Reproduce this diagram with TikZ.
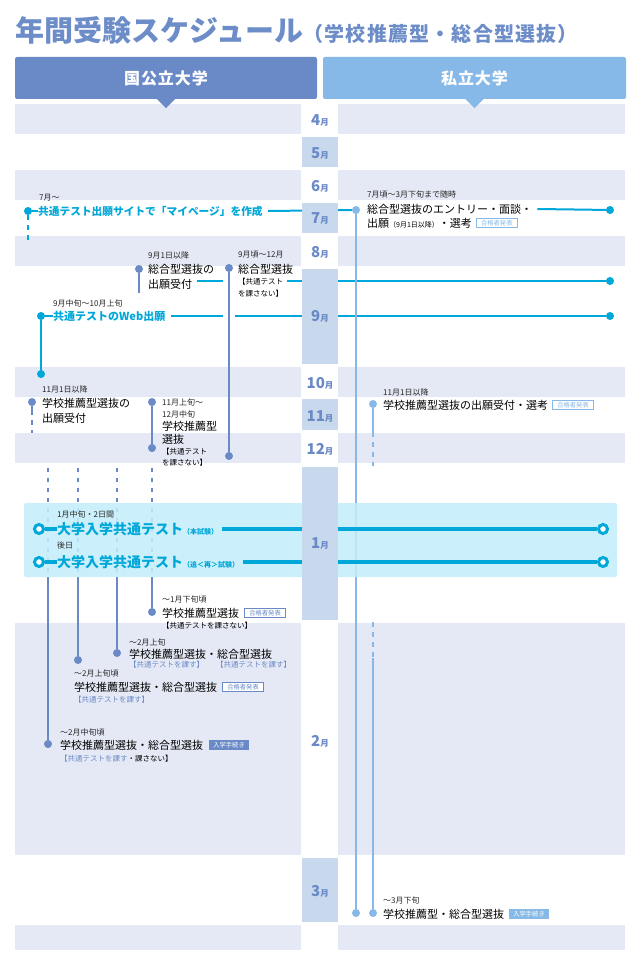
\documentclass[tikz,border=0pt]{standalone}
\usepackage{fontspec}
\setmainfont{Noto Sans CJK JP}
\usetikzlibrary{positioning}
\pgfdeclarelayer{bg}
\pgfdeclarelayer{top}
\pgfsetlayers{bg,main,top}
\definecolor{kokuBlue}{HTML}{6A8AC7}
\definecolor{shiBlue}{HTML}{86B9E7}
\definecolor{testCyan}{HTML}{00A7D9}
\definecolor{stripeBg}{HTML}{E5E9F5}
\definecolor{cellBg}{HTML}{C8D9EE}
\definecolor{bandBg}{HTML}{C2EEFC}
\definecolor{titleBlue}{HTML}{6D8DC9}
\newcommand{\tsuki}[1]{{\fontsize{15}{15}\bfseries\selectfont #1}{\fontsize{8.5}{9}\bfseries\selectfont 月}}
\newcommand{\kakko}[1]{{\fontsize{7}{7}\selectfont #1}}
\tikzset{
    dot/.style={circle, inner sep=0pt, minimum size=8pt},
    kdot/.style={dot, fill=kokuBlue},
    sdot/.style={dot, fill=shiBlue},
    cdot/.style={dot, fill=testCyan},
    ring/.style={circle, inner sep=0pt, minimum size=9pt, draw=testCyan,
    	line width=3pt, fill=white},
    kline/.style={draw=kokuBlue, line width=2pt},
    sline/.style={draw=shiBlue, line width=2pt},
    cline/.style={draw=testCyan, line width=2pt},
    tline/.style={draw=testCyan, line width=4pt},
    dashln/.style={dash pattern=on 5pt off 5pt},
    dotln/.style={dash pattern=on 4pt off 6pt},
    date/.style={anchor=west, inner sep=0pt, text=black!85,
    	font=\fontsize{8}{8}\selectfont},
    item/.style={anchor=west, inner sep=0pt, font=\fontsize{11}{11}\selectfont},
    citem/.style={anchor=west, inner sep=0pt, text=testCyan,
    	font=\fontsize{10.7}{11}\bfseries\selectfont},
    bigt/.style={anchor=west, inner sep=0pt, text=testCyan,
    	font=\fontsize{14}{14}\bfseries\selectfont},
    note/.style={anchor=west, inner sep=0pt, font=\fontsize{7.5}{8}\selectfont},
    bnote/.style={note, text=kokuBlue},
    badge/.style={anchor=west, inner xsep=4.5pt, inner ysep=1.8pt,
    	line width=0.8pt, font=\fontsize{6.3}{6.5}\selectfont},
    okk/.style={badge, draw=kokuBlue, text=kokuBlue, fill=white},
    oks/.style={badge, draw=shiBlue, text=shiBlue, fill=white},
    tek/.style={badge, fill=kokuBlue, text=white},
    tes/.style={badge, fill=shiBlue, text=white},
    headbox/.style={rounded corners=2pt, minimum height=42pt, text=white,
    	font=\fontsize{16}{16}\bfseries\selectfont\addfontfeature{LetterSpace=6}},
    mlabel/.style={inner sep=0pt, text=kokuBlue}
}
\begin{document}
\begin{tikzpicture}[x=1pt,y=-1pt]
  \useasboundingbox (0,0) rectangle (640,965);

  \begin{pgfonlayer}{bg}
    \fill[white] (0,0) rectangle (640,965);
    \foreach \ya/\yb in {104/134,170/200,236/266,367/397,433/463,623/855,925/950}{
      \fill[stripeBg] (15,\ya) rectangle (301,\yb);
      \fill[stripeBg] (338,\ya) rectangle (625,\yb);
    }
  \end{pgfonlayer}

  \node[anchor=base west, inner sep=0pt, text=titleBlue,
    font=\fontsize{29}{29}\bfseries\selectfont] (ttl) at (15,42) {年間受験スケジュール};
  \node[anchor=base west, inner sep=0pt, text=titleBlue,
    font=\fontsize{20}{20}\bfseries\selectfont\addfontfeature{LetterSpace=6}] (sub)
    at (ttl.base east) {（学校推薦型・総合型選抜）};

  \node[headbox, fill=kokuBlue, minimum width=302pt] (hk) at (166,78) {国公立大学};
  \node[headbox, fill=shiBlue, minimum width=303pt] (hs) at (474.5,78) {私立大学};
  \fill[kokuBlue] ([xshift=-9pt]hk.south) -- ([xshift=9pt]hk.south) -- ([yshift=-9pt]hk.south) -- cycle;
  \fill[shiBlue] ([xshift=-9pt]hs.south) -- ([xshift=9pt]hs.south) -- ([yshift=-9pt]hs.south) -- cycle;

  % 7月
  \node[cdot] (a0) at (28,211) {};
  \coordinate (a0b) at (28,240);
  \node[date] (a1d) at (39,198) {7月～};
  \node[citem] (a1) at (38,211) {共通テスト出願サイトで「マイページ」を作成};
  \node[sdot] (b0) at (356,210) {};
  \node[date] (b1d) at (367,194) {7月頃～3月下旬まで随時};
  \node[item] (b1) at (367,209) {総合型選抜のエントリー・面談・};
  \node[item] (b2) at (367,223) {出願\kakko{（9月1日以降）}・選考};
  \node[oks, right=4pt of b2] (b2k) {合格者発表};
  \node[cdot] (b0e) at (610,210) {};
  \draw[cline] (a0) -- (a1);
  \draw[cline] ([xshift=5pt]a1.east) -- (b0);
  \draw[cline] ([xshift=5pt]b1.east) -- (b0e);
  \draw[cline, dashln] (a0) -- (a0b);

  % 9月
  \node[kdot] (c0) at (139,269) {};
  \coordinate (c0a) at (139,288);
  \coordinate (c0b) at (139,298);
  \node[date] (c1d) at (148,255) {9月1日以降};
  \node[item] (c1) at (148,269) {総合型選抜の};
  \node[item] (c2) at (148,284) {出願受付};
  \draw[kline] (c0) -- (c0a);
  \draw[kline, dashln] (c0a) -- (c0b);

  \node[kdot] (d0) at (229,268) {};
  \node[date] (d1d) at (238,255) {9月頃～12月};
  \node[item] (d1) at (238,269) {総合型選抜};
  \node[note] (d2) at (238,282) {【共通テスト};
  \node[note] (d3) at (238,294) {を課さない】};
  \node[kdot] (d0e) at (229,456) {};
  \draw[kline] (d0) -- (d0e);

  \coordinate (e1) at (223,281);
  \node[cdot] (e0e) at (610,281) {};
  \draw[cline] ([xshift=5pt]c2.east |- e1) -- (e1);
  \draw[cline] ([xshift=4pt]d2.east |- e1) -- (e0e);

  \node[cdot] (f0) at (41,316) {};
  \node[date] (f1d) at (53,303) {9月中旬～10月上旬};
  \node[citem, font=\fontsize{11}{11}\bfseries\selectfont] (f1) at (53,316) {共通テストのWeb出願};
  \coordinate (f2) at (223,316);
  \coordinate (f3) at (235,316);
  \node[cdot] (f0e) at (610,316) {};
  \node[cdot] (f0b) at (41,374) {};
  \draw[cline] (f0) -- (f1);
  \draw[cline] ([xshift=6pt]f1.east) -- (f2);
  \draw[cline] (f3) -- (f0e);
  \draw[cline] (f0) -- (f0b);

  % 11月
  \node[kdot] (g0) at (32,402) {};
  \coordinate (g0a) at (32,410);
  \coordinate (g0b) at (32,433);
  \node[date] (g1d) at (42,389) {11月1日以降};
  \node[item] (g1) at (42,403) {学校推薦型選抜の};
  \node[item] (g2) at (42,418) {出願受付};
  \draw[kline] (g0) -- (g0a);
  \draw[kline, dashln] (g0a) -- (g0b);

  \node[kdot] (h0) at (152,402) {};
  \node[date] (h1d) at (162,402) {11月上旬～};
  \node[date] (h2d) at (162,414) {12月中旬};
  \node[item] (h1) at (162,426) {学校推薦型};
  \node[item] (h2) at (162,439) {選抜};
  \node[note] (h3) at (162,452) {【共通テスト};
  \node[note] (h4) at (162,463) {を課さない】};
  \node[kdot] (h0e) at (152,448) {};
  \draw[kline] (h0) -- (h0e);

  \node[sdot] (i0) at (373,404) {};
  \coordinate (i0a) at (373,432);
  \coordinate (i0b) at (373,466);
  \coordinate (i0c) at (373,622);
  \coordinate (i0d) at (373,658);
  \node[date] (i1d) at (383,392) {11月1日以降};
  \node[item] (i1) at (383,405) {学校推薦型選抜の出願受付・選考};
  \node[oks, right=4pt of i1] (i1k) {合格者発表};
  \node[sdot] (i0e) at (373,913) {};
  \node[sdot] (b0f) at (356,913) {};
  \draw[sline] (b0) -- (b0f);
  \draw[sline] (i0) -- (i0a);
  \draw[sline, dashln] (i0a) -- (i0b);
  \draw[sline, dashln] (i0c) -- (i0d);
  \draw[sline] (i0d) -- (i0e);

  % 1月〜2月
  \foreach \n/\x/\y in {1/152/612, 2/117/653, 3/78/660, 4/48/744}{
    \coordinate (q\n a) at (\x,468);
    \coordinate (q\n b) at (\x,577);
    \node[kdot] (q\n) at (\x,\y) {};
    \draw[kline, dotln] (q\n a) -- (q\n b);
    \draw[kline] (q\n b) -- (q\n);
  }

  \fill[bandBg, fill opacity=.85, rounded corners=2pt] (24,503) rectangle (617,577);
  \node[date] (r1d) at (57,514) {1月中旬・2日間};
  \node[ring] (r1) at (39,529) {};
  \node[bigt] (r1t) at (57,529) {大学入学共通テスト\kakko{（本試験）}};
  \node[ring] (r1e) at (603,529) {};
  \draw[tline] (r1) -- (r1t);
  \draw[tline] ([xshift=4pt]r1t.east) -- (r1e);
  \node[date] (r2d) at (57,545) {後日};
  \node[ring] (r2) at (39,562) {};
  \node[bigt] (r2t) at (57,562) {大学入学共通テスト\kakko{（追＜再＞試験）}};
  \node[ring] (r2e) at (603,562) {};
  \draw[tline] (r2) -- (r2t);
  \draw[tline] ([xshift=4pt]r2t.east) -- (r2e);

  \node[date] (q1d) at (162,599) {～1月下旬頃};
  \node[item] (q1t) at (162,613) {学校推薦型選抜};
  \node[okk, right=5pt of q1t] (q1k) {合格者発表};
  \node[note] (q1n) at (162,626) {【共通テストを課さない】};

  \node[date] (q2d) at (129,642) {～2月上旬};
  \node[item] (q2t) at (129,654) {学校推薦型選抜・総合型選抜};
  \node[bnote] (q2n) at (129,665) {【共通テストを課す】};
  \node[bnote] (q2m) at (216,665) {【共通テストを課す】};

  \node[date] (q3d) at (74,673) {～2月上旬頃};
  \node[item] (q3t) at (74,687) {学校推薦型選抜・総合型選抜};
  \node[okk, right=5pt of q3t] (q3k) {合格者発表};
  \node[bnote] (q3n) at (74,700) {【共通テストを課す】};

  \node[date] (q4d) at (60,732) {～2月中旬頃};
  \node[item] (q4t) at (60,745) {学校推薦型選抜・総合型選抜};
  \node[tek, right=5pt of q4t] (q4k) {入学手続き};
  \node[note] (q4n) at (60,759) {\textcolor{kokuBlue}{【共通テストを課す}・課さない】};

  % 3月
  \node[date] (k1d) at (383,900) {～3月下旬};
  \node[item] (k1) at (383,914) {学校推薦型・総合型選抜};
  \node[tes, right=4pt of k1] (k1k) {入学手続き};

  \begin{pgfonlayer}{top}
    \foreach \ya/\yb in {137/167,203/233,269/364,399/430,467/620,858/922}
      \fill[cellBg] (302,\ya) rectangle (338,\yb);
    \foreach \m/\y in {4/120,5/153,6/186,7/218,8/252,9/316,10/383,11/416,12/449,1/543,2/741,3/891}
      \node[mlabel] (m\m) at (320,\y) {\tsuki{\m}};
  \end{pgfonlayer}
\end{tikzpicture}
\end{document}
